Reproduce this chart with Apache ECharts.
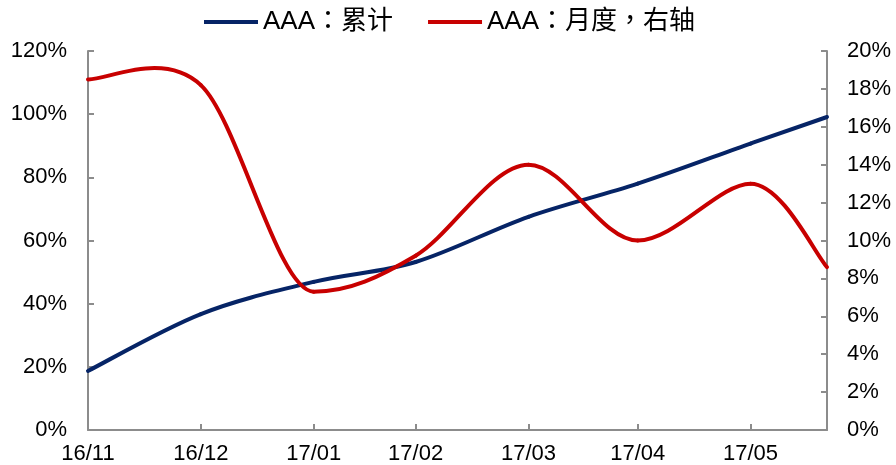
<!DOCTYPE html>
<html>
<head>
<meta charset="utf-8">
<script src="https://cdn.jsdelivr.net/npm/echarts@6/dist/echarts.min.js"></script>
<style>
  html, body { margin: 0; padding: 0; background: #fff; }
  #chart { width: 896px; height: 465px; }
</style>
</head>
<body>
<div id="chart"></div>
<script>
// Month-end observation dates (last one is a partial month)
const dates = ['2016-11-30', '2016-12-31', '2017-01-31', '2017-02-28', '2017-03-31', '2017-04-30', '2017-05-31', '2017-06-21'];
// AAA share, cumulative (%), left axis
const cumulative = [18.7, 36.7, 46.9, 53.2, 67.5, 78.0, 90.7, 99.1];
// AAA share, monthly (%), right axis
const monthly = [18.5, 18.2, 7.3, 9.2, 14.0, 10.0, 13.0, 8.6];
// Tick positions on the date axis
const tickDates = ['2016-11-30', '2016-12-31', '2017-01-31', '2017-02-28', '2017-03-31', '2017-04-30', '2017-05-31'];
const seriesNames = ['AAA：累计', 'AAA：月度，右轴'];

const toTs = s => Date.parse(s);
const xs = dates.map(toTs);
const ticks = tickDates.map(toTs);

const fmtDate = v => {
  const d = new Date(v);
  const yy = String(d.getUTCFullYear() % 100).padStart(2, '0');
  const mm = String(d.getUTCMonth() + 1).padStart(2, '0');
  return yy + '/' + mm;
};

const axisGray = '#8c8c8c';
const labelFont = { color: '#000', fontSize: 22, fontFamily: 'Liberation Sans, Arial, sans-serif' };
const TENSION = 1 / 6;

// Tangent at point k: neighbour chord (Catmull-Rom), levelled at local peaks and troughs
function tangent(pts, k) {
  const n = pts.length;
  const a = pts[Math.max(k - 1, 0)];
  const b = pts[Math.min(k + 1, n - 1)];
  let tx = b[0] - a[0];
  let ty = b[1] - a[1];
  if (k > 0 && k < n - 1) {
    const dPrev = pts[k][1] - a[1];
    const dNext = b[1] - pts[k][1];
    if (dPrev * dNext < 0) ty = 0;
  }
  return [tx, ty];
}

// Smoothed segment from point i to point i+1, drawn as a cubic Bezier
function smoothSegment(values, color) {
  return function (params, api) {
    const i = params.dataIndex;
    if (i >= values.length - 1) return null;
    const pts = xs.map((x, k) => api.coord([x, values[k]]));
    const p1 = pts[i];
    const p2 = pts[i + 1];
    const t1 = tangent(pts, i);
    const t2 = tangent(pts, i + 1);
    return {
      type: 'bezierCurve',
      shape: {
        x1: p1[0], y1: p1[1],
        cpx1: p1[0] + t1[0] * TENSION,
        cpy1: p1[1] + t1[1] * TENSION,
        cpx2: p2[0] - t2[0] * TENSION,
        cpy2: p2[1] - t2[1] * TENSION,
        x2: p2[0], y2: p2[1]
      },
      style: { stroke: color, lineWidth: 4, fill: null, lineCap: 'round' },
      silent: true
    };
  };
}

const blue = '#062466';
const red = '#c80000';

const chart = echarts.init(document.getElementById('chart'), null, { renderer: 'canvas' });
chart.setOption({
  animation: false,
  backgroundColor: '#fff',
  legend: {
    top: 4,
    left: 199,
    itemWidth: 54,
    itemHeight: 4,
    itemGap: 35,
    icon: 'rect',
    textStyle: { color: '#000', fontSize: 26, fontFamily: 'Liberation Sans, Noto Sans CJK TC, sans-serif' },
    data: seriesNames
  },
  grid: { left: 88, right: 69, top: 51, bottom: 35, containLabel: false },
  xAxis: {
    type: 'value',
    min: xs[0],
    max: xs[xs.length - 1],
    axisLine: { show: true, lineStyle: { color: axisGray, width: 2 } },
    axisTick: { show: true, inside: true, length: 6, customValues: ticks, lineStyle: { color: axisGray, width: 2 } },
    axisLabel: Object.assign({ customValues: ticks, formatter: fmtDate, margin: 13 }, labelFont),
    splitLine: { show: false }
  },
  yAxis: [
    {
      type: 'value', min: 0, max: 120, interval: 20, position: 'left',
      axisLine: { show: true, lineStyle: { color: axisGray, width: 2 } },
      axisTick: { show: true, inside: true, length: 6, lineStyle: { color: axisGray, width: 2 } },
      axisLabel: Object.assign({ formatter: '{value}%', margin: 21 }, labelFont),
      splitLine: { show: false }
    },
    {
      type: 'value', min: 0, max: 20, interval: 2, position: 'right',
      axisLine: { show: true, lineStyle: { color: axisGray, width: 2 } },
      axisTick: { show: true, inside: true, length: 6, lineStyle: { color: axisGray, width: 2 } },
      axisLabel: Object.assign({ formatter: '{value}%', margin: 20 }, labelFont),
      splitLine: { show: false }
    }
  ],
  series: [
    {
      name: seriesNames[0], type: 'custom', yAxisIndex: 0,
      itemStyle: { color: blue },
      encode: { x: 0, y: 1 },
      renderItem: smoothSegment(cumulative, blue),
      data: xs.map((x, i) => [x, cumulative[i]])
    },
    {
      name: seriesNames[1], type: 'custom', yAxisIndex: 1,
      itemStyle: { color: red },
      encode: { x: 0, y: 1 },
      renderItem: smoothSegment(monthly, red),
      data: xs.map((x, i) => [x, monthly[i]])
    }
  ]
});
</script>
</body>
</html>
